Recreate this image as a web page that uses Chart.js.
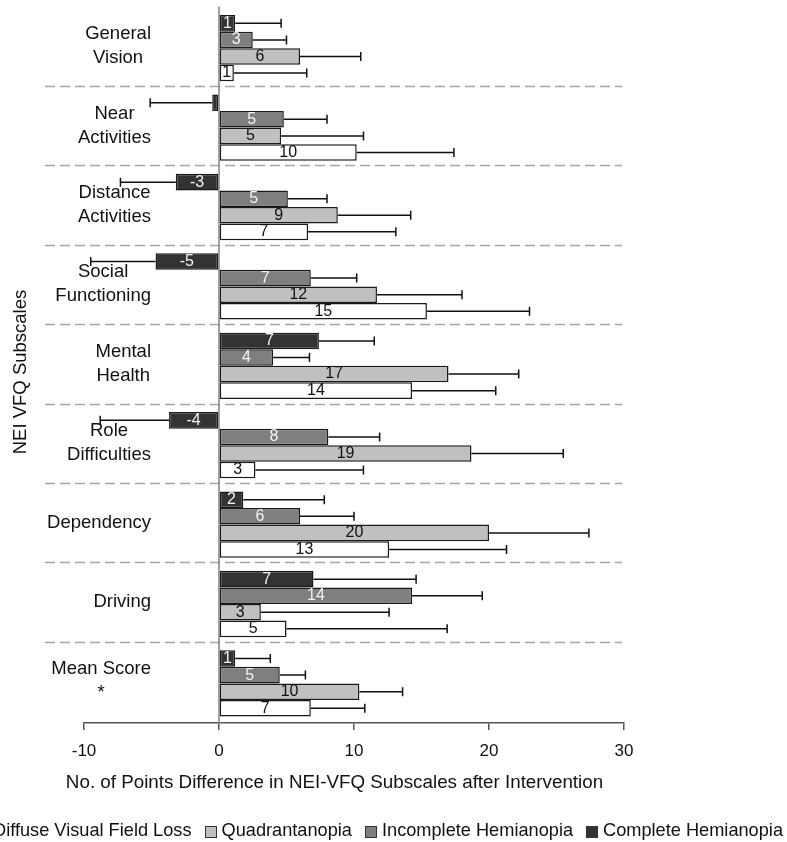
<!DOCTYPE html>
<html><head><meta charset="utf-8">
<script src="https://cdn.jsdelivr.net/npm/chart.js@4"></script>
<style>
html,body{margin:0;padding:0;background:#fff;overflow:hidden;width:787px;height:842px;}
#wrap{position:absolute;left:0;top:0;width:787px;height:842px;}
#legend{position:absolute;right:4px;top:818px;white-space:nowrap;font:18.2px "Liberation Sans",Arial,sans-serif;color:#111;display:flex;align-items:center;line-height:24px;}
.item{display:flex;align-items:center;margin-left:13px;}
.box{width:10px;height:10px;border:1px solid #333;margin-right:5px;margin-top:3px;}
</style></head><body>
<div id="wrap"><canvas id="c"></canvas></div>
<div id="legend"></div>
<script>
const categories = [["General","Vision"],["Near","Activities"],["Distance","Activities"],["Social","Functioning"],["Mental","Health"],["Role","Difficulties"],["Dependency"],["Driving"],["Mean Score","*"]];
const seriesNames = ["Complete Hemianopia","Incomplete Hemianopia","Quadrantanopia","Diffuse Visual Field Loss"];
const completeValues   = [1.2, -0.5, -3.2, -4.7, 7.4, -3.7, 1.8, 7.0, 1.2];
const completeErrors   = [3.4, 4.6, 4.1, 4.8, 4.1, 5.1, 6.0, 7.6, 2.6];
const incompleteValues = [2.5, 4.8, 5.1, 6.8, 4.0, 8.1, 6.0, 14.3, 4.5];
const incompleteErrors = [2.5, 3.2, 2.9, 3.4, 2.7, 3.8, 4.0, 5.2, 1.9];
const quadrantValues   = [6.0, 4.6, 8.8, 11.7, 17.0, 18.7, 20.0, 3.1, 10.4];
const quadrantErrors   = [4.5, 6.1, 5.4, 6.3, 5.2, 6.8, 7.4, 9.5, 3.2];
const diffuseValues    = [1.1, 10.2, 6.6, 15.4, 14.3, 2.7, 12.6, 5.0, 6.8];
const diffuseErrors    = [5.4, 7.2, 6.5, 7.6, 6.2, 8.0, 8.7, 11.9, 4.0];
const xTicks = [-10, 0, 10, 20, 30];
const xTitle = 'No. of Points Difference in NEI-VFQ Subscales after Intervention';
const yTitle = 'NEI VFQ Subscales';

const FONT = '"Liberation Sans", Arial, sans-serif';
const fills = ['#333333','#7f7f7f','#c0c0c0','#ffffff'];
const labelColors = ['#f2f2f2','#f2f2f2','#111111','#111111'];
const valueSets = [completeValues, incompleteValues, quadrantValues, diffuseValues];
const errorSets = [completeErrors, incompleteErrors, quadrantErrors, diffuseErrors];

const datasets = seriesNames.map((n,i)=>({
  label:n, data:valueSets[i], errors:errorSets[i],
  backgroundColor:fills[i], borderColor:'#1a1a1a', borderWidth:1.5, borderSkipped:false,
  barPercentage:1.0, categoryPercentage:0.835
}));

// HTML legend (reversed order)
const lg = document.getElementById('legend');
for (let i = seriesNames.length-1; i >= 0; i--) {
  const it = document.createElement('div'); it.className='item';
  const b = document.createElement('div'); b.className='box'; b.style.background=fills[i];
  const t = document.createElement('span'); t.textContent = seriesNames[i];
  it.appendChild(b); it.appendChild(t); lg.appendChild(it);
}

const SHIFT = 2;
const overlay = {
  id:'overlay',
  beforeDatasetsDraw(chart){
    const {ctx, chartArea:a, scales:{x,y}} = chart;
    ctx.save();
    ctx.strokeStyle='#a6a6a6'; ctx.lineWidth=1.5; ctx.setLineDash([10,5]);
    for (let i=0;i<categories.length-1;i++){
      const yy = Math.round((y.getPixelForValue(i)+y.getPixelForValue(i+1))/2 - SHIFT)+0.5;
      ctx.beginPath(); ctx.moveTo(45,yy); ctx.lineTo(622,yy); ctx.stroke();
    }
    ctx.setLineDash([]);
    const x0 = x.getPixelForValue(0);
    ctx.strokeStyle='#808080'; ctx.lineWidth=1.5;
    ctx.beginPath(); ctx.moveTo(x0,a.top-SHIFT); ctx.lineTo(x0,a.bottom); ctx.stroke();
    ctx.restore();
  },
  afterDatasetsDraw(chart){
    const {ctx, chartArea:a, scales:{x,y}} = chart;
    ctx.save();
    chart.data.datasets.forEach((ds,di)=>{
      const meta = chart.getDatasetMeta(di);
      meta.data.forEach((bar,i)=>{
        const v = ds.data[i], e = ds.errors[i];
        const sgn = v < 0 ? -1 : 1;
        const xe = x.getPixelForValue(v + sgn*e);
        ctx.strokeStyle='#111'; ctx.lineWidth=1.5;
        ctx.beginPath(); ctx.moveTo(bar.x, bar.y); ctx.lineTo(xe, bar.y);
        ctx.moveTo(xe, bar.y-4.5); ctx.lineTo(xe, bar.y+4.5); ctx.stroke();
        const r = Math.round(v);
        if (r !== 0) {
          ctx.fillStyle = labelColors[di];
          ctx.font = '16px '+FONT; ctx.textAlign='center'; ctx.textBaseline='middle';
          ctx.fillText(String(r), (bar.x+bar.base)/2, bar.y);
        }
      });
    });
    // category labels
    ctx.fillStyle='#111'; ctx.font='18.5px '+FONT; ctx.textAlign='center'; ctx.textBaseline='middle';
    categories.forEach((lines,i)=>{
      const cy = y.getPixelForValue(i) - SHIFT;
      const w = Math.max(...lines.map(l=>ctx.measureText(l).width));
      const cx = 151 - w/2;
      lines.forEach((l,k)=>{ ctx.fillText(l, cx, cy + (k-(lines.length-1)/2)*24); });
    });
    // x title
    ctx.font='18.8px '+FONT;
    ctx.fillText(xTitle, 334.5, a.bottom + 59.5);
    // y title
    ctx.font='18.5px '+FONT;
    ctx.translate(21, 372); ctx.rotate(-Math.PI/2);
    ctx.fillText(yTitle, 0, 0);
    ctx.restore();
  }
};

new Chart(document.getElementById('c'), {
  type:'bar',
  data:{ labels:categories, datasets },
  options:{
    indexAxis:'y', responsive:true, maintainAspectRatio:false, animation:false, devicePixelRatio:1,
    layout:{ padding:{ left:84, right:163, top:8.5, bottom:69.5 } },
    scales:{
      x:{ min:-10, max:30,
        afterBuildTicks(s){ s.ticks = xTicks.map(v=>({value:v})); },
        grid:{ drawOnChartArea:false, drawTicks:true, tickLength:7, color:'#555', lineWidth:1.5 },
        border:{ display:true, color:'#555', width:1.5 },
        ticks:{ padding:11, color:'#111', font:{ family:FONT, size:17 } },
        title:{ display:false }
      },
      y:{ display:false }
    },
    plugins:{ legend:{ display:false }, tooltip:{ enabled:false } }
  },
  plugins:[overlay]
});
</script>
</body></html>
